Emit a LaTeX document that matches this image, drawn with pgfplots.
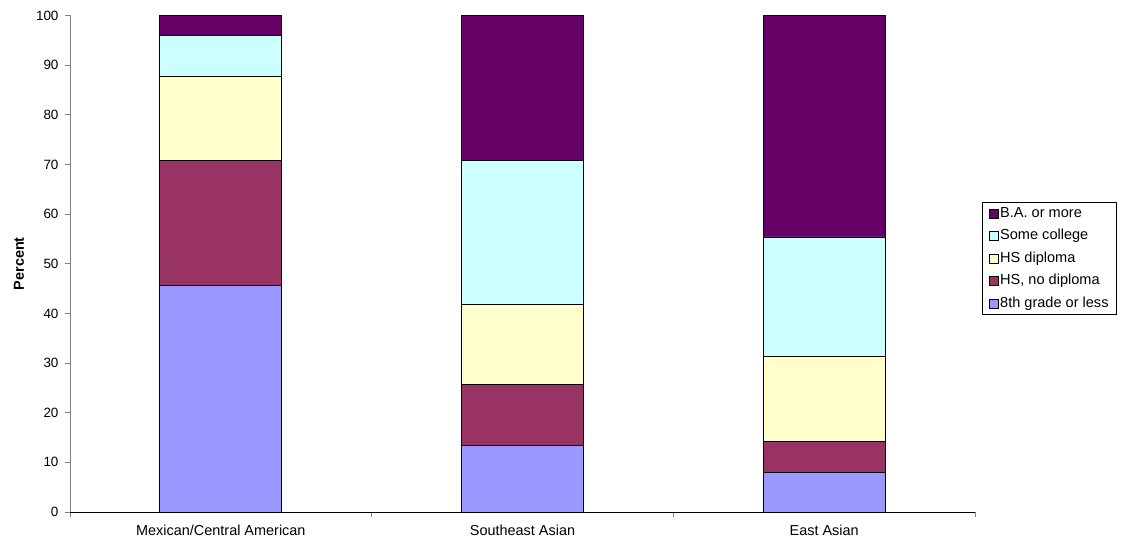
\documentclass[border=0pt]{standalone}
\usepackage{pgfplots}
\pgfplotsset{compat=1.18}
\usepackage{fontspec}
\setmainfont{Liberation Sans}

\definecolor{baplus}{HTML}{660066}
\definecolor{somecoll}{HTML}{CCFFFF}
\definecolor{hsdip}{HTML}{FFFFCC}
\definecolor{hsnodip}{HTML}{993366}
\definecolor{eighth}{HTML}{9999FF}
\definecolor{axgray}{HTML}{808080}

% Educational attainment shares (percent), groups at x = 0, 1, 2
\pgfplotstableread{
x  eighth hsnodip hsdip somecoll baplus
0  45.6   25.2    17.0  8.1      4.1
1  13.4   12.2    16.3  28.9     29.2
2  7.9    6.3     17.1  24.1     44.6
}\edutable

\begin{document}
\begin{tikzpicture}
\begin{axis}[
  at={(0,0)}, anchor=south west,
  scale only axis, width=905bp, height=496.5bp,
  ybar stacked, bar width=122bp,
  xmin=-0.5, xmax=2.5, ymin=0, ymax=100,
  axis x line*=bottom, axis y line*=left,
  axis line style={-},
  x axis line style={black, line width=0.8bp},
  y axis line style={axgray, line width=0.8bp},
  ytick={0,10,...,100},
  xtick={0,1,2},
  xticklabels={Mexican/Central American, Southeast Asian, East Asian},
  major x tick style={draw=none},
  minor xtick={-0.5,0.5,1.5,2.5},
  minor x tick style={axgray, line width=0.8bp},
  major y tick style={axgray, line width=0.8bp},
  tick align=outside,
  major tick length=5bp, minor tick length=5bp,
  xticklabel style={font=\fontsize{14.5}{16}\selectfont, yshift=-5bp},
  yticklabel style={font=\fontsize{13.5}{15}\selectfont, xshift=-3bp},
  /pgf/number format/assume math mode=true,
  ylabel={\textbf{Percent}},
  every axis y label/.style={at={(axis description cs:0,0.5)}, xshift=-51bp, rotate=90, anchor=center, font=\fontsize{14.5}{16}\selectfont},
  reverse legend,
  legend cell align=left,
  legend image code/.code={%
    \draw[#1, line width=0.8bp] (0bp,-4.5bp) rectangle (9bp,4.5bp);},
  legend style={at={(1.00773,0.6244)}, anchor=north west, draw=black, line width=0.8bp,
    font=\fontsize{14.6}{16}\selectfont, inner xsep=7bp, inner ysep=0bp,
    column sep=0bp,
    nodes={text height=11.5bp, text depth=4bp, inner ysep=3.5bp, inner xsep=1bp}},
  every axis plot/.append style={draw=black, line width=0.8bp},
]
\addplot[fill=eighth] table[x=x, y=eighth] {\edutable};
\addplot[fill=hsnodip] table[x=x, y=hsnodip] {\edutable};
\addplot[fill=hsdip] table[x=x, y=hsdip] {\edutable};
\addplot[fill=somecoll] table[x=x, y=somecoll] {\edutable};
\addplot[fill=baplus] table[x=x, y=baplus] {\edutable};
\legend{8th grade or less, {HS, no diploma}, HS diploma, Some college, B.A. or more}
\end{axis}
\pgfresetboundingbox
\path[use as bounding box] (-70bp,-34bp) rectangle (1052bp,512bp);
\end{tikzpicture}
\end{document}
